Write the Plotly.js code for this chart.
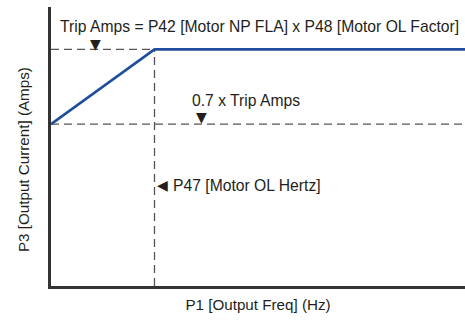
<!DOCTYPE html>
<html>
<head>
<meta charset="utf-8">
<script src="https://cdn.plot.ly/plotly-3.0.1.min.js"></script>
<style>html,body{margin:0;padding:0;background:#fff;}#chart{width:465px;height:322px;}</style>
</head>
<body>
<div id="chart"></div>
<script>
// Characteristic (relative units: x in multiples of P47, y in multiples of Trip Amps)
var curveX = [0, 1, 4];
var curveY = [0.7, 1.0, 1.0];
var tripX = [0, 1];
var tripY = [1.0, 1.0];
var sevenX = [0, 4];
var sevenY = [0.7, 0.7];
var p47X = [1, 1];
var p47Y = [0.05, 1.0];
var labels = {
  trip: "Trip Amps = P42 [Motor NP FLA] x P48 [Motor OL Factor]",
  seven: "0.7 x Trip Amps",
  p47: "P47 [Motor OL Hertz]",
  xTitle: "P1 [Output Freq] (Hz)",
  yTitle: "P3 [Output Current] (Amps)"
};

var FONT = '"Liberation Sans", Arial, sans-serif';
var dashStyle = {color: '#555555', width: 1.3, dash: '8px,5px'};

var traces = [
  {x: tripX, y: tripY, mode: 'lines', line: dashStyle, hoverinfo: 'skip'},
  {x: sevenX, y: sevenY, mode: 'lines', line: dashStyle, hoverinfo: 'skip'},
  {x: p47X, y: p47Y, mode: 'lines', line: dashStyle, hoverinfo: 'skip'},
  {x: curveX, y: curveY, mode: 'lines', line: {color: '#1f4e9e', width: 2.6}, hoverinfo: 'skip'}
];

var txt = {family: FONT, size: 15.7, color: '#231f20'};
var ttl = {family: FONT, size: 15.2, color: '#231f20'};
var arr = {family: 'DejaVu Sans, sans-serif', size: 14, color: '#231f20'};

var layout = {
  width: 465, height: 322,
  margin: {l: 51, r: 0, t: 7, b: 36, pad: 0},
  paper_bgcolor: '#ffffff', plot_bgcolor: '#ffffff',
  showlegend: false,
  font: txt,
  xaxis: {range: [0, 4], showgrid: false, zeroline: false, showticklabels: false, ticks: '',
          showline: true, linecolor: '#333333', linewidth: 3,
          title: {text: labels.xTitle, font: ttl, standoff: 12}},
  yaxis: {range: [0.05, 1.17], showgrid: false, zeroline: false, showticklabels: false, ticks: '',
          showline: true, linecolor: '#333333', linewidth: 3},
  annotations: [
    {x: -0.0676, y: 0.4516, xref: 'paper', yref: 'paper', text: labels.yTitle, textangle: -90,
     xanchor: 'center', yanchor: 'middle', showarrow: false, font: ttl},
    {x: 2.01, y: 1.09, xref: 'x', yref: 'y', text: labels.trip, showarrow: false, font: txt},
    {x: 0.433, y: 1.022, xref: 'x', yref: 'y', text: '▼', showarrow: false, font: arr},
    {x: 1.885, y: 0.793, xref: 'x', yref: 'y', text: labels.seven, showarrow: false, font: txt},
    {x: 1.458, y: 0.728, xref: 'x', yref: 'y', text: '▼', showarrow: false, font: arr},
    {x: 1.89, y: 0.454, xref: 'x', yref: 'y', text: labels.p47, showarrow: false, font: txt},
    {x: 1.075, y: 0.454, xref: 'x', yref: 'y', text: '◀', showarrow: false, font: arr}
  ]
};

Plotly.newPlot('chart', traces, layout, {staticPlot: true, displayModeBar: false});
</script>
</body>
</html>
